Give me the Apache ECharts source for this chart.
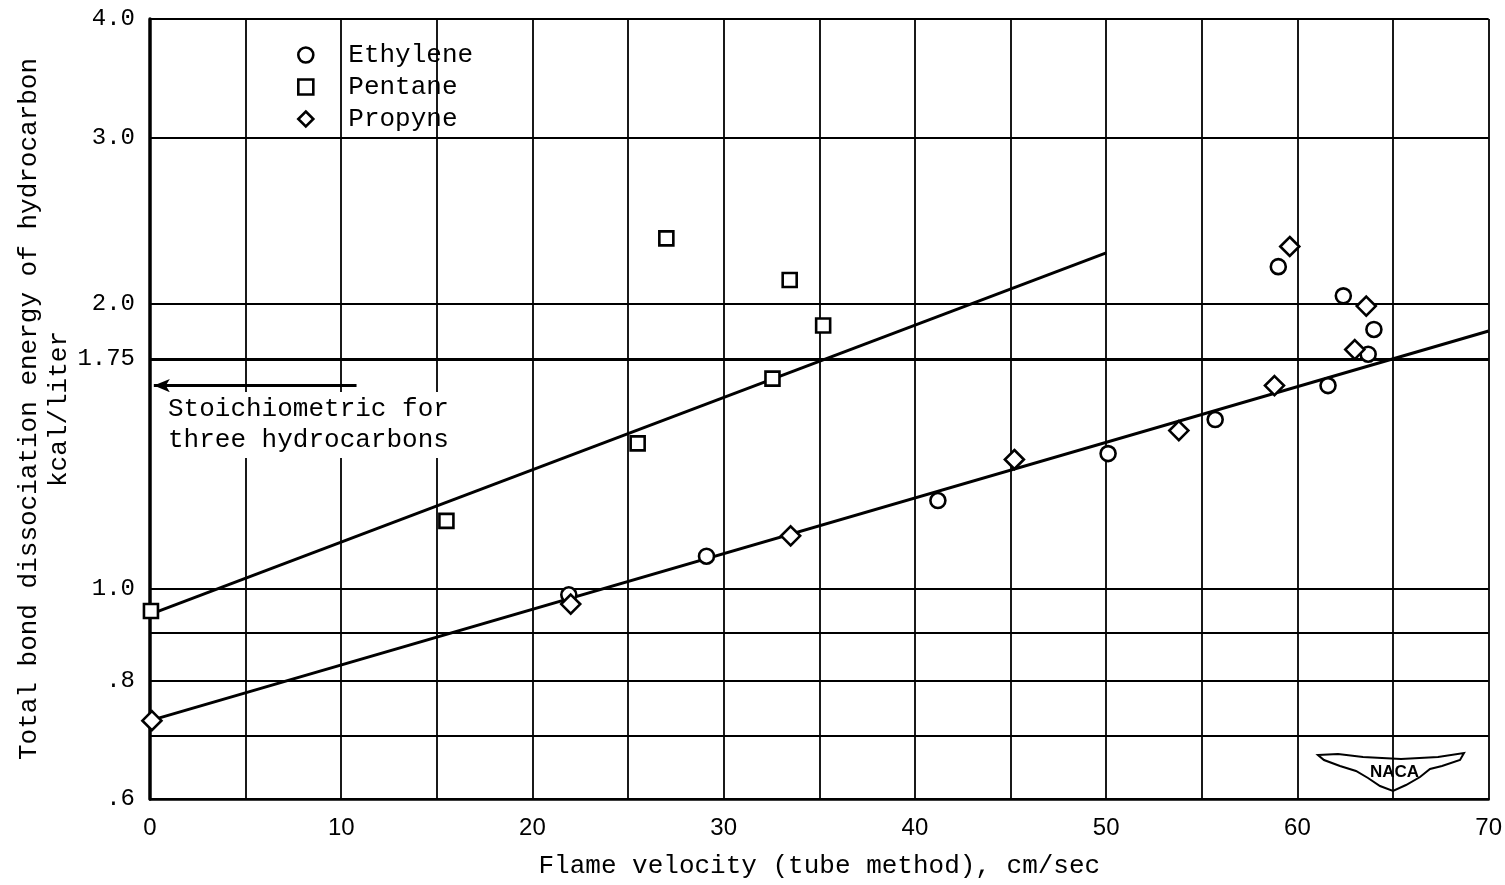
<!DOCTYPE html>
<html>
<head>
<meta charset="utf-8">
<script src="https://cdn.jsdelivr.net/npm/echarts@6/dist/echarts.min.js"></script>
<style>html,body{margin:0;padding:0;background:#fff}#c{width:1505px;height:885px}</style>
</head>
<body>
<div id="c"></div>
<script>
// ---- data ----
const ethylene = [[21.9,0.986],[29.1,1.083],[41.2,1.24],[50.1,1.39],[55.7,1.51],[59.0,2.19],[61.6,1.64],[62.4,2.04],[63.7,1.77],[64.0,1.88]];
const pentane = [[0.05,0.948],[15.5,1.18],[25.5,1.425],[27.0,2.346],[32.55,1.668],[33.45,2.12],[35.2,1.898]];
const propyne = [[0.1,0.726],[22.0,0.964],[33.5,1.138],[45.2,1.37],[53.8,1.47],[58.8,1.64],[59.6,2.30],[63.0,1.79],[63.6,1.99]];
const pentaneFit = [[0,0.94],[50,2.265]];
const lowerFit = [[0,0.726],[70,1.873]];
const stoichLevel = 1.75;
const arrowLevel = 1.64;
const arrowSpan = [10.8, 0.2];
const yTickValues = [0.6, 0.8, 1.0, 1.75, 2.0, 3.0, 4.0];
const yTickLabels = ['.6', '.8', '1.0', '1.75', '2.0', '3.0', '4.0'];
const yGridValues = [0.6, 0.7, 0.8, 0.9, 1.0, 2.0, 3.0, 4.0];
const xTickLabels = ['0','10','20','30','40','50','60','70'];

const FONT = 'Liberation Mono';
const chart = echarts.init(document.getElementById('c'));

const markerStyle = {color:'#fff', borderColor:'#000', borderWidth:2.6, opacity:1};

chart.setOption({
  animation:false,
  backgroundColor:'#fff',
  grid:{left:150, right:16, top:19, bottom:86},
  legend:{
    orient:'vertical', left:292, top:34,
    itemWidth:15, itemHeight:15, itemGap:0,
    itemStyle:{borderWidth:2.6, borderColor:'#000', color:'#fff'},
    textStyle:{fontFamily:FONT, fontSize:26, color:'#000', lineHeight:32, padding:[0,0,0,30]},
    data:['Ethylene','Pentane','Propyne']
  },
  xAxis:{
    type:'value', min:0, max:70, interval:5,
    name:'Flame velocity (tube method), cm/sec',
    nameLocation:'middle', nameGap:54, nameMoveOverlap:false,
    nameTextStyle:{fontFamily:FONT, fontSize:26, color:'#000'},
    axisLine:{show:true, lineStyle:{color:'#000', width:2.5}},
    axisTick:{show:false},
    axisLabel:{
      fontFamily:'Liberation Sans', fontSize:24, color:'#000', margin:17,
      formatter:(v)=>{const s=String(Math.round(v)); return xTickLabels.indexOf(s)>=0 && v%10===0 ? s : '';}
    },
    splitLine:{show:true, lineStyle:{color:'#000', width:1.8}}
  },
  yAxis:{
    type:'log', logBase:10, min:0.6, max:4.0,
    name:'Total bond dissociation energy of hydrocarbon\nkcal/liter',
    nameLocation:'middle', nameGap:76, nameRotate:90, nameMoveOverlap:false,
    nameTextStyle:{fontFamily:FONT, fontSize:26, color:'#000', lineHeight:30, align:'center'},
    axisLine:{show:true, lineStyle:{color:'#000', width:3.5}},
    axisTick:{show:false, customValues:yGridValues},
    axisLabel:{
      customValues:yTickValues,
      fontFamily:FONT, fontSize:24, color:'#000', margin:15,
      formatter:(v)=>{let best=0;for(let i=0;i<yTickValues.length;i++){if(Math.abs(yTickValues[i]-v)<Math.abs(yTickValues[best]-v))best=i;}return yTickLabels[best];}
    },
    splitLine:{show:true, lineStyle:{color:'#000', width:1.8}}
  },
  series:[
    {
      name:'fitPentane', type:'line', data:pentaneFit, symbol:'none',
      lineStyle:{color:'#000', width:3}, z:3, silent:true
    },
    {
      name:'fitLower', type:'line', data:lowerFit, symbol:'none',
      lineStyle:{color:'#000', width:3}, z:3, silent:true,
      markLine:{
        silent:true, animation:false,
        data:[
          [{coord:[0, stoichLevel], symbol:'none'},{coord:[70, stoichLevel], symbol:'none'}],
          [{coord:[arrowSpan[0], arrowLevel], symbol:'none'},{coord:[arrowSpan[1], arrowLevel], symbol:'arrow', symbolSize:[10,16]}]
        ],
        lineStyle:{color:'#000', width:3.2, type:'solid'},
        label:{show:false}
      }
    },
    {name:'Ethylene', type:'scatter', data:ethylene, symbol:'circle', symbolSize:15, itemStyle:markerStyle, emphasis:{disabled:true}, z:5},
    {name:'Pentane', type:'scatter', data:pentane, symbol:'rect', symbolSize:14, itemStyle:markerStyle, emphasis:{disabled:true}, z:5},
    {name:'Propyne', type:'scatter', data:propyne, symbol:'diamond', symbolSize:[19,19], itemStyle:markerStyle, emphasis:{disabled:true}, z:5}
  ],
  graphic:[
    {
      type:'text', left:164, top:392, z:10,
      style:{
        text:'Stoichiometric for\nthree hydrocarbons',
        font:'26px "Liberation Mono"', fill:'#000', lineHeight:31,
        backgroundColor:'#fff', padding:[2,4,2,4]
      }
    },
    {
      type:'group', left:1317, top:752, z:10,
      children:[
        {type:'polygon', shape:{points:[[0,4],[20,3],[45,6],[83,8],[120,6],[146,2],[142,9],[124,15],[112,18],[102,26],[88,34],[75,40],[62,35],[50,27],[38,20],[22,15],[6,9]]},
         style:{fill:'#fff', stroke:'#000', lineWidth:2}},
        {type:'text', x:52, y:13, style:{text:'NACA', font:'bold 17px "Liberation Sans"', fill:'#000'}}
      ]
    }
  ]
});
</script>
</body>
</html>
